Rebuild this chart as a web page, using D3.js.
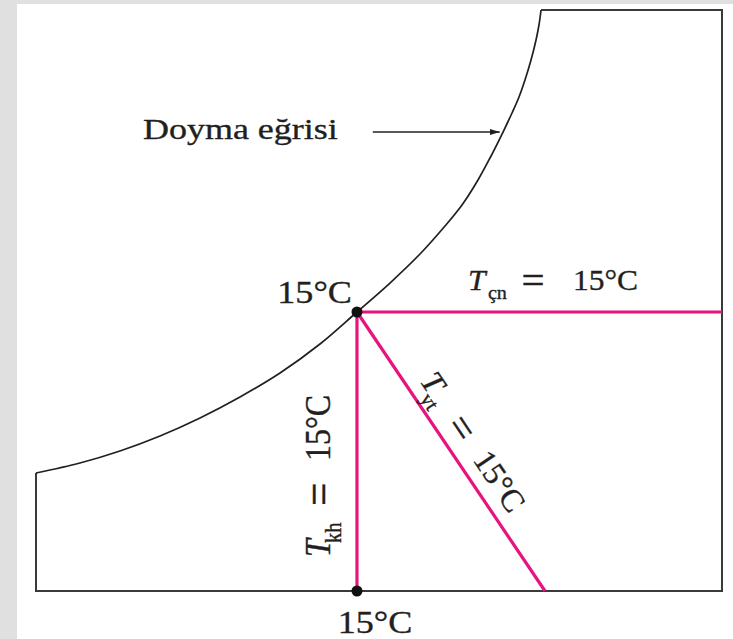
<!DOCTYPE html>
<html>
<head>
<meta charset="utf-8">
<script src="https://cdn.jsdelivr.net/npm/d3@7"></script>
<style>
  html, body { margin: 0; padding: 0; background: #e0e0e0; }
  svg { display: block; }
</style>
</head>
<body>
<svg id="chart" width="733" height="639"></svg>
<script>
// Saturation curve, in schematic chart units (0–100 on both axes)
const curveX = [0, 6.41, 12.24, 18.08, 23.91, 29.74, 35.57, 41.40, 46.79, 51.60, 55.98, 59.62,
                62.10, 64.43, 66.18, 68.08, 69.39, 70.41, 71.28, 72.16, 72.89, 73.32, 73.62];
const curveY = [20.31, 22.03, 24.10, 26.68, 29.78, 33.39, 37.52, 42.51, 48.02, 53.01, 58.00, 62.82,
                66.44, 70.74, 74.53, 79.00, 82.27, 85.03, 87.95, 91.39, 94.84, 97.42, 100];

// Outer boundary of the chart region
const frameX = [73.62, 100, 100, 0, 0];
const frameY = [100, 100, 0, 0, 20.31];

// Saturated state point and the three 15 °C lines leaving it
const stateX = 46.79, stateY = 48.02;
const lineEndX = [100, 46.79, 74.2];
const lineEndY = [48.02, 0, 0];
const lineSubs = ["çn", "kh", "yt"];
const tempLabel = "15°C";

// Pointer to the saturation curve
const arrowX = [49.1, 67.6];
const arrowY = [79.0, 79.0];
const curveName = "Doyma eğrisi";

const W = 733, H = 639;
const INK = "#231f20", PINK = "#e6147f";
const FONT = "'Liberation Serif', 'Times New Roman', serif";

const svg = d3.select("#chart");
svg.append("rect").attr("x", 17).attr("y", 4).attr("width", W - 17).attr("height", H - 4).attr("fill", "#ffffff");

const x = d3.scaleLinear().domain([0, 100]).range([36, 722]);
const y = d3.scaleLinear().domain([0, 100]).range([591, 10]);

const defs = svg.append("defs");
defs.append("marker")
  .attr("id", "head").attr("viewBox", "0 0 10 6").attr("refX", 10).attr("refY", 3)
  .attr("markerWidth", 10).attr("markerHeight", 6).attr("markerUnits", "userSpaceOnUse")
  .attr("orient", "auto")
  .append("path").attr("d", "M0,0 L10,3 L0,6 Z").attr("fill", INK);

// boundary
const frameLine = d3.line().x(d => x(d[0])).y(d => y(d[1]));
svg.append("path")
  .attr("d", frameLine(d3.zip(frameX, frameY)))
  .attr("fill", "none").attr("stroke", "#3a3a3a").attr("stroke-width", 2)
  .attr("stroke-linejoin", "miter");

// saturation curve
const satLine = d3.line().x(d => x(d[0])).y(d => y(d[1])).curve(d3.curveCatmullRom.alpha(0.5));
svg.append("path")
  .attr("d", satLine(d3.zip(curveX, curveY)))
  .attr("fill", "none").attr("stroke", INK).attr("stroke-width", 1.7);

// 15 °C lines
svg.selectAll("line.iso")
  .data(d3.zip(lineEndX, lineEndY))
  .join("line").attr("class", "iso")
  .attr("x1", x(stateX)).attr("y1", y(stateY))
  .attr("x2", d => x(d[0])).attr("y2", d => y(d[1]))
  .attr("stroke", PINK).attr("stroke-width", 3.2);

// state points
svg.selectAll("circle.pt")
  .data([[stateX, stateY], [stateX, 0]])
  .join("circle").attr("class", "pt")
  .attr("cx", d => x(d[0])).attr("cy", d => y(d[1])).attr("r", 5.5)
  .attr("fill", "#111");

// arrow to the curve
svg.append("line")
  .attr("x1", x(arrowX[0])).attr("y1", y(arrowY[0]))
  .attr("x2", x(arrowX[1])).attr("y2", y(arrowY[1]))
  .attr("stroke", INK).attr("stroke-width", 1.6)
  .attr("marker-end", "url(#head)");

// ---- text ----
function styled(sel, size) {
  return sel.attr("font-family", FONT).attr("font-size", size).attr("fill", INK)
    .attr("stroke", INK).attr("stroke-width", 0.35);
}

function plain(transform, txt, size, anchor) {
  styled(svg.append("g").attr("transform", transform).append("text"), size)
    .attr("text-anchor", anchor || "start")
    .text(txt);
}

// "T_sub = 15°C" with subscript
function tLabel(transform, sub, size, pos) {
  const t = styled(svg.append("g").attr("transform", transform).append("text"), size);
  t.append("tspan").attr("x", 0).attr("y", 0).attr("font-style", "italic").text("T");
  t.append("tspan").attr("x", pos[0]).attr("y", size * 0.3).attr("font-size", size * 0.64).text(sub);
  t.append("tspan").attr("x", pos[1]).attr("y", size * 0.13).attr("font-size", size * 1.3).text("=");
  t.append("tspan").attr("x", pos[2]).attr("y", 0).text(tempLabel);
}

const sx = x(stateX), sy = y(stateY);

plain(`translate(${x(arrowX[0]) - 35},${y(arrowY[0]) + 7}) scale(1.2,1)`, curveName, 30, "end");
plain(`translate(${sx - 5},${sy - 9}) scale(1.13,1)`, tempLabel, 32, "end");
plain(`translate(${sx + 18},${y(0) + 42}) scale(1.13,1)`, tempLabel, 32, "middle");

// horizontal line label
tLabel(`translate(${sx + 111},${sy - 22}) scale(1.05,1)`, lineSubs[0], 30, [19, 51, 100]);

// vertical line label
tLabel(`translate(${sx - 27},${y(0) - 34}) scale(1.15,1) rotate(-90)`, lineSubs[1], 32, [14, 51, 96]);

// diagonal line label
{
  const ex = x(lineEndX[2]), ey = y(lineEndY[2]);
  const ang = Math.atan2(ey - sy, ex - sx);
  const ux = Math.cos(ang), uy = Math.sin(ang);
  const nx = Math.sin(ang), ny = -Math.cos(ang);
  const px = sx + ux * 92 + nx * 13, py = sy + uy * 92 + ny * 13;
  tLabel(`translate(${px},${py}) rotate(${ang * 180 / Math.PI})`, lineSubs[2], 32, [15, 51, 95]);
}
</script>
</body>
</html>
